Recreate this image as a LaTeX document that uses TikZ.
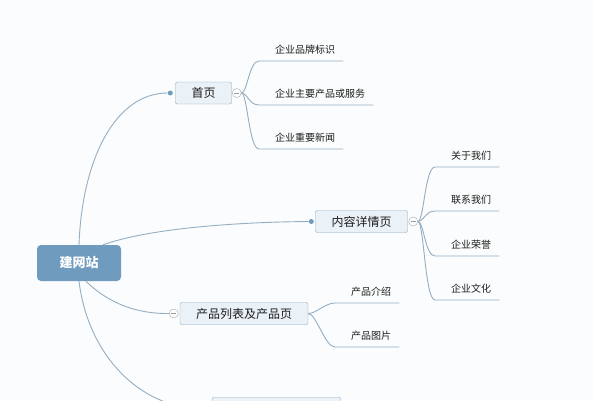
\documentclass[tikz,border=0pt]{standalone}
\usepackage{fontspec}
\setmainfont{Noto Sans CJK SC}
\definecolor{bg}{HTML}{FBFCFD}
\definecolor{linecol}{HTML}{94AEC2}
\definecolor{rootfill}{HTML}{6E9BBE}
\definecolor{topicfill}{HTML}{EAF1F7}
\definecolor{topicline}{HTML}{8AA8BF}
\definecolor{labelcol}{HTML}{1E1E1E}
\tikzset{
	root/.style={rectangle, rounded corners=4pt, fill=rootfill, text=white,
		font=\fontsize{13}{13}\selectfont\bfseries, minimum width=84pt, minimum height=36pt},
	topic/.style={rectangle, rounded corners=2pt, draw=topicline, fill=topicfill, text=labelcol,
		font=\fontsize{12}{12}\selectfont, inner xsep=16pt, minimum height=22pt},
	leaf/.style={anchor=south west, text=labelcol, font=\fontsize{10}{10}\selectfont,
		text height=8pt, text depth=2pt, inner ysep=5.5pt, inner xsep=8pt},
	fold/.style={circle, draw=gray!70, fill=white, minimum size=9pt, inner sep=0pt,
		path picture={\draw[gray!80] ([xshift=-2.5pt]path picture bounding box.center)
			-- ([xshift=2.5pt]path picture bounding box.center);}},
	dot/.style={circle, fill=rootfill, minimum size=5pt, inner sep=0pt},
	branch/.style={draw=linecol, line width=0.9pt}
}
\begin{document}
\begin{tikzpicture}[x=1pt,y=-1pt]

	\fill[bg] (0,0) rectangle (593,400);
	\useasboundingbox (0,0) rectangle (593,400);
	\clip (0,0) rectangle (593,400);

	% main topics
	\node[root] (web) at (79,263) {建网站};
	\node[topic] (home) at (203.5,93) {首页};
	\node[topic] (detail) at (361.5,221.5) {内容详情页};
	\node[topic] (list) at (244,313.5) {产品列表及产品页};
	\node[topic, minimum width=129pt] (more) at (276.5,408.5) {};

	\node[dot] (home-in) at ([xshift=-5pt]home.west) {};
	\node[dot] (detail-in) at ([xshift=-4pt]detail.west) {};
	\node[fold] (home-fold) at ([xshift=5pt]home.east) {};
	\node[fold] (detail-fold) at ([xshift=5.5pt]detail.east) {};
	\node[fold] (list-fold) at ([xshift=-6pt]list.west) {};

	\draw[branch] (web.north) .. controls (82,160) and (115,93) .. (home-in);
	\draw[branch] ([xshift=24pt]web.north) .. controls (150,228) and (240,222) .. (detail-in);
	\draw[branch] ([xshift=7pt]web.south) .. controls (110,305) and (140,314) .. (list-fold.west);
	\draw[branch] (web.south) .. controls (88,355) and (140,408.5) .. ([xshift=-10pt]more.west);

	% subtopics
	\foreach \n / \y / \lbl in {
	h1/61/企业品牌标识,
	h2/105/企业主要产品或服务,
	h3/149/企业重要新闻}
	{
		\node[leaf] (\n) at (267,\y) {\lbl};
		\draw[branch] (home-fold.east) .. controls +(6,0) and +(-10,0) .. ([xshift=-8pt]\n.south west) -- (\n.south east);
	};
	\foreach \n / \y / \lbl in {
	d1/167/关于我们,
	d2/211/联系我们,
	d3/256/企业荣誉,
	d4/300/企业文化}
	{
		\node[leaf] (\n) at (443,\y) {\lbl};
		\draw[branch] (detail-fold.east) .. controls +(6,0) and +(-10,0) .. ([xshift=-8pt]\n.south west) -- (\n.south east);
	};
	\foreach \n / \y / \lbl in {
	p1/303/产品介绍,
	p2/347/产品图片}
	{
		\node[leaf] (\n) at (343,\y) {\lbl};
		\draw[branch] (list.east) .. controls +(8,0) and +(-10,0) .. ([xshift=-8pt]\n.south west) -- (\n.south east);
	};
	\end{tikzpicture}
\end{document}
